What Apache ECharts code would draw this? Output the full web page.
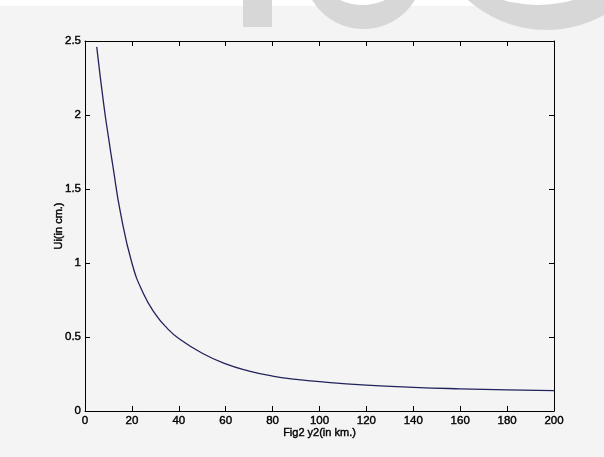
<!DOCTYPE html>
<html>
<head>
<meta charset="utf-8">
<script src="https://cdn.jsdelivr.net/npm/echarts@6/dist/echarts.min.js"></script>
<style>html,body{margin:0;padding:0;background:#f4f4f4;}#c{width:604px;height:457px;}</style>
</head>
<body>
<div id="c"></div>
<script>
const xValues = [5, 8, 10, 12, 15, 20, 25, 30, 35, 40, 50, 60, 70, 80, 90, 100, 120, 140, 160, 180, 200];
const uValues = [2.46, 2.07, 1.85, 1.645, 1.35, 1.0, 0.79, 0.655, 0.56, 0.49, 0.39, 0.318, 0.27, 0.236, 0.214, 0.198, 0.175, 0.16, 0.15, 0.143, 0.137];
const xLabelName = 'Fig2 y2(in km.)';
const yLabelName = 'Ui(in cm.)';

const chart = echarts.init(document.getElementById('c'), null, {renderer: 'canvas'});
const tickFont = {fontFamily: 'Liberation Sans', fontSize: 11.5, color: '#000', textBorderColor: '#000', textBorderWidth: 0.4};
const nameFont = {fontFamily: 'Liberation Sans', fontSize: 11, color: '#000', textBorderColor: '#000', textBorderWidth: 0.4};
const axisCommon = {
  axisLine: {show: true, onZero: false, lineStyle: {color: '#000', width: 1}},
  axisTick: {show: true, inside: true, length: 5, lineStyle: {color: '#000', width: 1}},
  splitLine: {show: false}
};
const wm = '#d7d7d7';
chart.setOption({
  backgroundColor: '#f4f4f4',
  animation: false,
  graphic: [
    {type: 'rect', shape: {x: 0, y: 0, width: 604, height: 6}, style: {fill: '#ffffff'}, z: 0},
    {type: 'rect', shape: {x: 243, y: 0, width: 29, height: 27}, style: {fill: wm}, z: 1},
    {type: 'circle', shape: {cx: 363.5, cy: -31, r: 60}, style: {fill: wm}, z: 1},
    {type: 'circle', shape: {cx: 362.5, cy: -48, r: 53}, style: {fill: '#ffffff'}, z: 2},
    {type: 'circle', shape: {cx: 546.5, cy: -88, r: 118}, style: {fill: wm}, z: 1},
    {type: 'circle', shape: {cx: 538, cy: -120, r: 125}, style: {fill: '#ffffff'}, z: 2}
  ],
  grid: {left: 85, right: 50, top: 41, bottom: 46, show: false},
  xAxis: [
    Object.assign({
      type: 'value', position: 'bottom', min: 0, max: 200, interval: 20,
      name: xLabelName, nameLocation: 'middle', nameGap: 16, nameMoveOverlap: false,
      nameTextStyle: nameFont,
      axisLabel: Object.assign({margin: 4}, tickFont)
    }, axisCommon),
    Object.assign({
      type: 'value', position: 'top', min: 0, max: 200, interval: 20,
      axisLabel: {show: false}
    }, axisCommon)
  ],
  yAxis: [
    Object.assign({
      type: 'value', position: 'left', min: 0, max: 2.5, interval: 0.5,
      name: yLabelName, nameLocation: 'middle', nameGap: 21, nameMoveOverlap: false,
      nameTextStyle: nameFont,
      axisLabel: Object.assign({margin: 4}, tickFont)
    }, axisCommon),
    Object.assign({
      type: 'value', position: 'right', min: 0, max: 2.5, interval: 0.5,
      axisLabel: {show: false}
    }, axisCommon)
  ],
  series: [{
    type: 'line',
    data: xValues.map((x, i) => [x, uValues[i]]),
    smooth: 0.5,
    showSymbol: false,
    lineStyle: {color: '#22225c', width: 1.3}
  }]
});
</script>
</body>
</html>
